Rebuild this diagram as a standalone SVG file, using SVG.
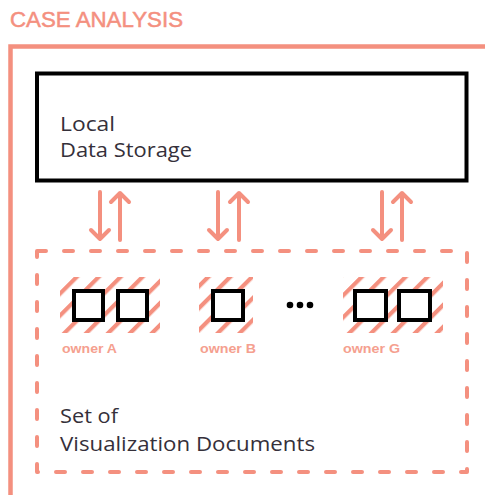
<svg xmlns="http://www.w3.org/2000/svg" width="485" height="495" viewBox="0 0 485 495">
  <style>
    .frame { fill: none; stroke: #f4907f; stroke-width: 4.5; }
    .store { fill: #ffffff; stroke: #000000; stroke-width: 4; }
    .docset { fill: none; stroke: #f4907f; stroke-width: 4; stroke-dasharray: 9 18; stroke-linecap: round; stroke-linejoin: round; }
    .flow { fill: none; stroke: #f4907f; stroke-width: 4; stroke-linecap: round; stroke-linejoin: round; }
    .doc { fill: #ffffff; stroke: #000000; stroke-width: 4; }
    .title { font-family: "Liberation Sans", "Noto Sans", sans-serif; font-size: 21.5px; fill: #f4907f; stroke: #f4907f; stroke-width: 0.5; }
    .label { font-family: "Open Sans", "Noto Sans", sans-serif; font-size: 20.5px; fill: #35303a; }
    .owner { font-family: "Liberation Sans", "Noto Sans", sans-serif; font-size: 13.5px; font-weight: bold; fill: #f5a08f; }
  </style>
  <defs>
    <pattern id="hatch" patternUnits="userSpaceOnUse" width="15.5" height="15.5" patternTransform="rotate(45)">
      <rect x="0" y="0" width="4.2" height="15.5" fill="#f4907f"/>
    </pattern>
  </defs>

  <!-- outer section frame -->
  <g id="case-analysis">
    <path class="frame" d="M10.5,495 V46.5 H485"/>
    <text class="title" x="10" y="27" textLength="173" lengthAdjust="spacingAndGlyphs">CASE ANALYSIS</text>
  </g>

  <!-- local data storage -->
  <g id="local-storage">
    <rect class="store" x="37" y="73.5" width="429.5" height="107"/>
    <text class="label" x="60" y="131" textLength="55" lengthAdjust="spacingAndGlyphs">Local</text>
    <text class="label" x="60" y="157" textLength="132" lengthAdjust="spacingAndGlyphs">Data Storage</text>
  </g>

  <!-- set of visualization documents -->
  <g id="doc-set">
    <rect class="docset" x="37" y="251" width="430" height="221"/>
    <text class="label" x="60" y="423" textLength="58" lengthAdjust="spacingAndGlyphs">Set of</text>
    <text class="label" x="60" y="451" textLength="255" lengthAdjust="spacingAndGlyphs">Visualization Documents</text>
  </g>

  <g id="owner-a">
    <rect x="60" y="277" width="100" height="56" fill="url(#hatch)"/>
    <rect class="doc" x="74" y="291" width="29" height="29"/>
    <rect class="doc" x="118" y="291" width="29" height="29"/>
    <text class="owner" x="62" y="353" textLength="55" lengthAdjust="spacingAndGlyphs">owner A</text>
  </g>

  <g id="owner-b">
    <rect x="199" y="277" width="54" height="56" fill="url(#hatch)"/>
    <rect class="doc" x="213" y="291" width="30" height="29"/>
    <text class="owner" x="200" y="353" textLength="56" lengthAdjust="spacingAndGlyphs">owner B</text>
  </g>

  <g id="ellipsis">
    <circle cx="290" cy="305" r="3.3" fill="#000000"/>
    <circle cx="300" cy="305" r="3.3" fill="#000000"/>
    <circle cx="310" cy="305" r="3.3" fill="#000000"/>
  </g>

  <g id="owner-g">
    <rect x="343" y="277" width="100" height="56" fill="url(#hatch)"/>
    <rect class="doc" x="355" y="291" width="31" height="29"/>
    <rect class="doc" x="399" y="291" width="31" height="29"/>
    <text class="owner" x="343" y="353" textLength="57" lengthAdjust="spacingAndGlyphs">owner G</text>
  </g>

  <!-- read / write flows between storage and documents -->
  <g id="connectors">
    <path class="flow" d="M100,192 V239 M91,230 L100,239 L109,230"/>
    <path class="flow" d="M120,240 V193 M111,202 L120,193 L129,202"/>
    <path class="flow" d="M218,192 V239 M209,230 L218,239 L227,230"/>
    <path class="flow" d="M239,240 V193 M230,202 L239,193 L248,202"/>
    <path class="flow" d="M382,192 V239 M373,230 L382,239 L391,230"/>
    <path class="flow" d="M402,240 V193 M393,202 L402,193 L411,202"/>
  </g>
</svg>
